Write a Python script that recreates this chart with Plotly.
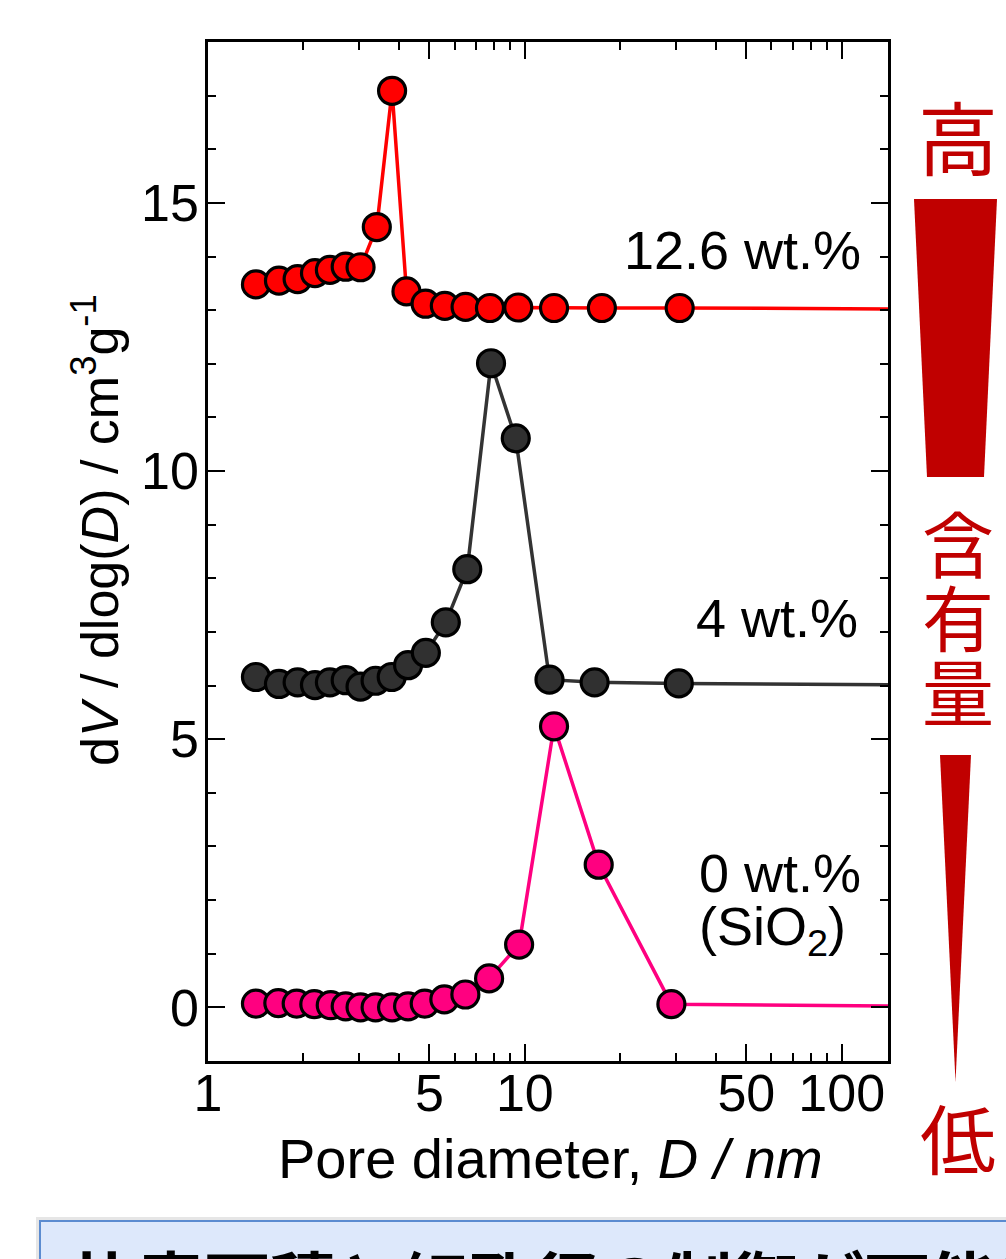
import plotly.graph_objects as go

# ---- data ----
d_red = [1.417, 1.675, 1.918, 2.176, 2.425, 2.72, 3.03, 3.41, 3.81, 4.23, 4.86, 5.59, 6.50, 7.76, 9.53, 12.36, 17.5, 30.8]
v_red = [13.48, 13.55, 13.58, 13.69, 13.75, 13.81, 13.80, 14.55, 17.09, 13.35, 13.12, 13.08, 13.06, 13.04, 13.05, 13.04, 13.04, 13.04]

d_blk = [1.417, 1.675, 1.918, 2.176, 2.425, 2.72, 3.03, 3.38, 3.80, 4.28, 4.87, 5.63, 6.58, 7.82, 9.36, 11.96, 16.6, 30.6]
v_blk = [6.16, 6.03, 6.06, 6.01, 6.06, 6.10, 5.98, 6.09, 6.16, 6.38, 6.61, 7.18, 8.17, 12.01, 10.61, 6.11, 6.06, 6.04]

d_pnk = [1.417, 1.667, 1.905, 2.165, 2.44, 2.72, 3.03, 3.38, 3.81, 4.28, 4.83, 5.57, 6.49, 7.71, 9.59, 12.36, 17.1, 29.0]
v_pnk = [0.07, 0.08, 0.07, 0.06, 0.04, 0.02, 0.0, 0.0, 0.0, 0.02, 0.07, 0.15, 0.24, 0.54, 1.17, 5.24, 2.66, 0.06]

# line continues beyond the last marker to the right edge
tail_d = [200, 200, 200]
tail_v = [13.02, 6.01, 0.02]

series_names = ["12.6 wt.%", "4 wt.%", "0 wt.%"]
x_tickvals = [1, 5, 10, 50, 100]
x_ticktext = ["1", "5", "10", "50", "100"]
x_minor = [2, 3, 4, 6, 7, 8, 9, 20, 30, 40, 60, 70, 80, 90]
y_tickvals = [0, 5, 10, 15]

# ---- figure ----
W, H = 1006, 1259
L, R, T, B = 208, 888, 42, 1061


def px(x):
    return (x - L) / (R - L)


def py(y):
    return (B - y) / (B - T)


fig = go.Figure()

series = [
    (d_red, v_red, tail_d[0], tail_v[0], "#ff0000", "#ff0000"),
    (d_blk, v_blk, tail_d[1], tail_v[1], "#333333", "#303030"),
    (d_pnk, v_pnk, tail_d[2], tail_v[2], "#ff0080", "#ff0080"),
]
for (dx, vy, tdx, tvy, lc, mc), name in zip(series, series_names):
    fig.add_trace(go.Scatter(
        x=dx + [tdx], y=vy + [tvy], mode="lines",
        line=dict(color=lc, width=3.5), showlegend=False, hoverinfo="skip"))
    fig.add_trace(go.Scatter(
        x=dx, y=vy, mode="markers", name=name,
        marker=dict(size=27, color=mc, line=dict(color="#000000", width=3.2)),
        showlegend=False))

font_main = "Liberation Sans, Arial, sans-serif"

fig.update_xaxes(
    type="log", range=[0, 2.146],
    tickvals=x_tickvals, ticktext=x_ticktext,
    ticks="inside", ticklen=17, tickwidth=2, tickcolor="black",
    minor=dict(tickvals=x_minor, ticks="inside", ticklen=8, tickwidth=2, tickcolor="black"),
    showline=True, linewidth=2.5, linecolor="black", mirror="ticks",
    showgrid=False, zeroline=False,
    tickfont=dict(family=font_main, size=52, color="black"),
    ticklabelstandoff=-15,
)
fig.update_yaxes(
    range=[-1, 18],
    tickvals=y_tickvals,
    ticks="inside", ticklen=17, tickwidth=2, tickcolor="black",
    minor=dict(dtick=1, ticks="inside", ticklen=8, tickwidth=2, tickcolor="black"),
    showline=True, linewidth=2.5, linecolor="black", mirror="ticks",
    showgrid=False, zeroline=False,
    tickfont=dict(family=font_main, size=52, color="black"),
    ticklabelstandoff=-4,
)

ann = []
ann.append(dict(x=px(550), y=py(1158), xref="paper", yref="paper",
                text="Pore diameter, <i>D / nm</i>", showarrow=False,
                font=dict(family=font_main, size=56, color="black"),
                xanchor="center", yanchor="middle"))
ann.append(dict(x=px(96), y=py(530), xref="paper", yref="paper",
                text="d<i>V</i> / dlog(<i>D</i>) / cm<sup>3</sup>g<sup>-1</sup>",
                textangle=-90, showarrow=False,
                font=dict(family=font_main, size=52, color="black"),
                xanchor="center", yanchor="middle"))
ann.append(dict(x=px(863), y=py(250), xref="paper", yref="paper",
                text=series_names[0], showarrow=False,
                font=dict(family=font_main, size=54, color="black"),
                xanchor="right", yanchor="middle"))
ann.append(dict(x=px(860), y=py(618), xref="paper", yref="paper",
                text=series_names[1], showarrow=False,
                font=dict(family=font_main, size=54, color="black"),
                xanchor="right", yanchor="middle"))
ann.append(dict(x=px(697), y=py(873), xref="paper", yref="paper",
                text=series_names[2], showarrow=False,
                font=dict(family=font_main, size=54, color="black"),
                xanchor="left", yanchor="middle"))
ann.append(dict(x=px(697), y=py(930), xref="paper", yref="paper",
                text="(SiO<sub>2</sub>)", showarrow=False,
                font=dict(family=font_main, size=54, color="black"),
                xanchor="left", yanchor="middle"))

cjk = "Noto Sans CJK JP"
red_dk = "#c00000"
for ch, yc, sz in [("高", 134, 80), ("含", 540, 72), ("有", 614, 72), ("量", 688, 72), ("低", 1136, 76)]:
    ann.append(dict(x=px(958), y=py(yc), xref="paper", yref="paper",
                    text=ch, showarrow=False,
                    font=dict(family=cjk, size=sz, color=red_dk),
                    xanchor="center", yanchor="middle"))

# bottom text box (text mostly cut by the page edge)
ann.append(dict(x=px(70), y=py(1228), xref="paper", yref="paper",
                text="<b>比表面積と細孔径の制御が可能に</b>", showarrow=False,
                font=dict(family=cjk, size=66, color="black"),
                xanchor="left", yanchor="top"))

shapes = [
    dict(type="path", xref="paper", yref="paper",
         path=f"M {px(914)},{py(199)} L {px(997)},{py(199)} L {px(984)},{py(477)} L {px(927)},{py(477)} Z",
         fillcolor=red_dk, line=dict(width=0)),
    dict(type="path", xref="paper", yref="paper",
         path=f"M {px(940)},{py(755)} L {px(971)},{py(755)} L {px(955.5)},{py(1082)} Z",
         fillcolor=red_dk, line=dict(width=0)),
    dict(type="rect", xref="paper", yref="paper",
         x0=px(36), x1=px(1012), y0=py(1217), y1=py(1290),
         fillcolor="#e6e6e6", line=dict(width=0), layer="below"),
    dict(type="rect", xref="paper", yref="paper",
         x0=px(40), x1=px(1012), y0=py(1221), y1=py(1290),
         fillcolor="#dde8fb", line=dict(color="#5b8bd0", width=2), layer="below"),
]

fig.update_layout(
    width=W, height=H, autosize=False,
    margin=dict(l=L, r=W - R, t=T, b=H - B, pad=0),
    paper_bgcolor="white", plot_bgcolor="rgba(0,0,0,0)",
    annotations=ann, shapes=shapes,
    showlegend=False,
)

fig.write_html("out.html")
